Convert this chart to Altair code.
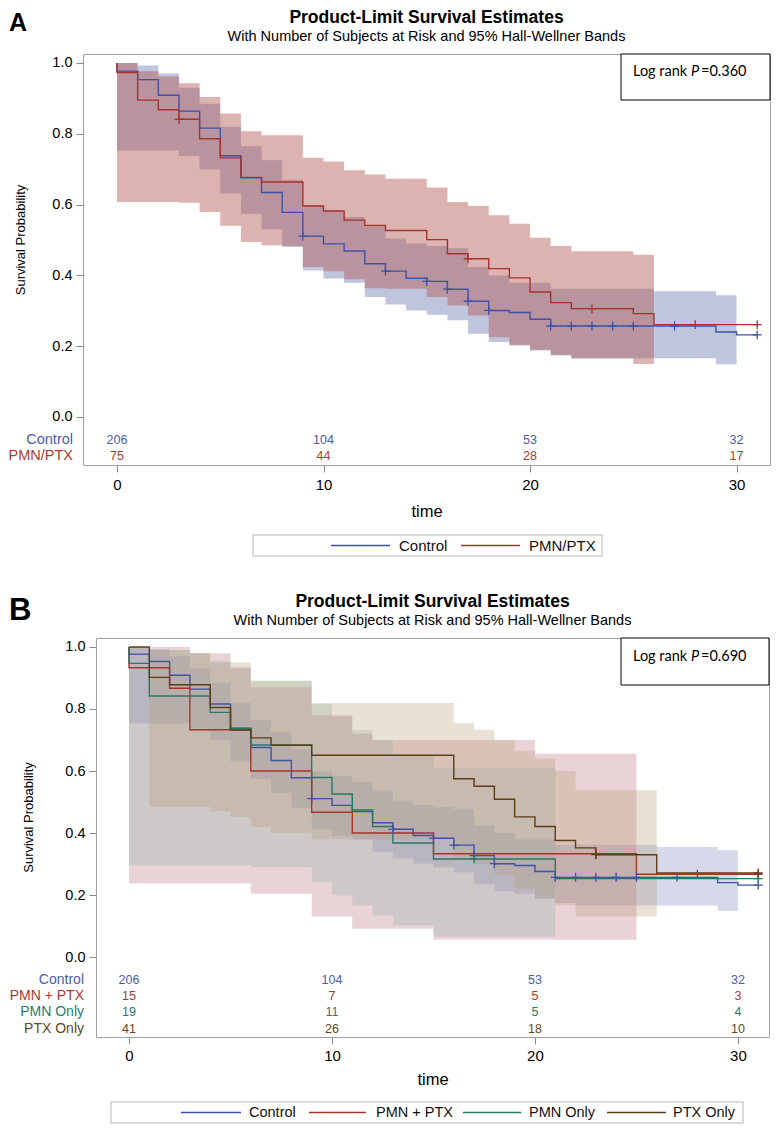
import altair as alt
import pandas as pd

FONT = "Liberation Sans, Arial, sans-serif"
BOX_FONT = "Lato, sans-serif"
PLUS = "M-1,0L1,0M0,-1L0,1"

# ---------------------------------------------------------------- data
risk_times = [0, 10, 20, 30]
end_time = 31

# Control (same cohort in both panels); values for months 0..30
control_surv = [0.977, 0.953, 0.909, 0.864, 0.816, 0.738, 0.676, 0.634, 0.578, 0.511,
                0.489, 0.469, 0.433, 0.412, 0.392, 0.383, 0.361, 0.327, 0.301, 0.295,
                0.276, 0.257, 0.257, 0.257, 0.257, 0.257, 0.257, 0.257, 0.257, 0.240, 0.232]
control_upper = [1.0, 0.993, 0.970, 0.930, 0.885, 0.820, 0.765, 0.725, 0.670, 0.598,
                 0.584, 0.565, 0.537, 0.504, 0.490, 0.483, 0.477, 0.424, 0.400, 0.379,
                 0.379, 0.362, 0.362, 0.362, 0.362, 0.362, 0.355, 0.355, 0.355, 0.344]
control_lower = [0.753, 0.753, 0.753, 0.737, 0.699, 0.631, 0.574, 0.530, 0.480, 0.414,
                 0.391, 0.379, 0.339, 0.318, 0.301, 0.289, 0.273, 0.235, 0.212, 0.204,
                 0.188, 0.174, 0.166, 0.166, 0.166, 0.166, 0.166, 0.166, 0.166, 0.149]
control_band_start = 0
control_censor = [9, 13, 15, 16, 17, 18, 21, 22, 23, 24, 25, 27, 31]
control_risk = [206, 104, 53, 32]

# Panel A: PMN/PTX
pmnptx_surv = [0.973, 0.895, 0.868, 0.841, 0.786, 0.732, 0.677, 0.664, 0.664, 0.596,
               0.582, 0.556, 0.541, 0.527, 0.527, 0.501, 0.461, 0.447, 0.419, 0.393,
               0.353, 0.323, 0.306, 0.306, 0.306, 0.292, 0.261, 0.261, 0.261, 0.261, 0.261]
pmnptx_upper = [1.0, 0.977, 0.962, 0.943, 0.904, 0.857, 0.807, 0.796, 0.796, 0.732,
                0.722, 0.697, 0.685, 0.673, 0.673, 0.648, 0.607, 0.596, 0.570, 0.546,
                0.506, 0.483, 0.468, 0.468, 0.468, 0.458]
pmnptx_lower = [0.607, 0.607, 0.607, 0.605, 0.579, 0.540, 0.494, 0.485, 0.483, 0.424,
                0.412, 0.389, 0.364, 0.362, 0.362, 0.339, 0.315, 0.287, 0.225, 0.202,
                0.190, 0.176, 0.165, 0.165, 0.165, 0.150]
pmnptx_band_start = 0
pmnptx_censor = [3, 17, 23, 28, 31]
pmnptx_risk = [75, 44, 28, 17]

# Panel B: PMN + PTX
both_surv = [0.933, 0.933, 0.867, 0.733, 0.733, 0.733, 0.600, 0.600, 0.600, 0.467,
             0.467, 0.400, 0.400, 0.400, 0.400, 0.333, 0.333, 0.333, 0.333, 0.333,
             0.333, 0.333, 0.333, 0.333, 0.333, 0.267, 0.267, 0.267, 0.267, 0.267, 0.267]
both_upper = [1.0, 1.0, 1.0, 0.98, 0.98, 0.935, 0.87, 0.87, 0.87, 0.78,
              0.78, 0.72, 0.70, 0.70, 0.70, 0.70, 0.70, 0.70, 0.70, 0.70,
              0.656, 0.656, 0.656, 0.656, 0.656]
both_lower = [0.237, 0.237, 0.237, 0.237, 0.237, 0.237, 0.204, 0.204, 0.204, 0.131,
              0.131, 0.091, 0.091, 0.091, 0.091, 0.056, 0.056, 0.056, 0.056, 0.056,
              0.056, 0.056, 0.056, 0.056, 0.056]
both_band_start = 0
both_censor = [23, 28, 31]
both_risk = [15, 7, 5, 3]

# Panel B: PMN Only
pmn_surv = [0.947, 0.842, 0.842, 0.842, 0.789, 0.737, 0.684, 0.684, 0.684, 0.579,
            0.526, 0.474, 0.421, 0.368, 0.368, 0.316, 0.316, 0.316, 0.316, 0.316,
            0.316, 0.253, 0.253, 0.253, 0.253, 0.253, 0.253, 0.253, 0.253, 0.253, 0.253]
pmn_upper = [1.0, 0.99, 0.99, 0.98, 0.955, 0.93, 0.892, 0.892, 0.892, 0.817,
             0.774, 0.733, 0.70, 0.65, 0.65, 0.61, 0.61, 0.61, 0.61, 0.61, 0.61]
pmn_lower = [0.296, 0.296, 0.296, 0.296, 0.296, 0.296, 0.290, 0.290, 0.290, 0.242,
             0.199, 0.167, 0.134, 0.102, 0.102, 0.065, 0.065, 0.065, 0.065, 0.065, 0.065]
pmn_band_start = 0
pmn_censor = [17, 31]
pmn_risk = [19, 11, 5, 4]

# Panel B: PTX Only
ptx_surv = [1.0, 0.902, 0.878, 0.878, 0.805, 0.732, 0.707, 0.683, 0.683, 0.651,
            0.651, 0.651, 0.651, 0.651, 0.651, 0.651, 0.575, 0.551, 0.509, 0.452,
            0.421, 0.376, 0.352, 0.330, 0.330, 0.330, 0.271, 0.271, 0.271, 0.271, 0.271]
ptx_upper = [0.99, 0.99, 0.98, 0.95, 0.95, 0.89, 0.89, 0.89, 0.819, 0.819,
             0.819, 0.819, 0.819, 0.819, 0.819, 0.755, 0.733, 0.70, 0.665, 0.64,
             0.60, 0.538, 0.538, 0.538, 0.538]
ptx_lower = [0.484, 0.484, 0.484, 0.47, 0.452, 0.419, 0.40, 0.40, 0.38, 0.38,
             0.38, 0.38, 0.38, 0.38, 0.38, 0.32, 0.30, 0.265, 0.22, 0.19,
             0.167, 0.131, 0.131, 0.131, 0.131]
ptx_band_start = 1
ptx_censor = [23, 31]
ptx_risk = [41, 26, 18, 10]

one = pd.DataFrame({"k": [0]})


def curve_rows(group, surv):
    rows = [dict(group=group, t=0, s=1.0, o=0)]
    for i, v in enumerate(surv):
        rows.append(dict(group=group, t=i, s=v, o=i + 1))
    rows.append(dict(group=group, t=end_time, s=surv[-1], o=len(surv) + 1))
    return rows


def band_rows(group, start, upper, lower):
    rows = [dict(group=group, t=start + i, hi=u, lo=l)
            for i, (u, l) in enumerate(zip(upper, lower))]
    rows.append(dict(group=group, t=start + len(upper), hi=upper[-1], lo=lower[-1]))
    return rows


def censor_rows(group, surv, times):
    return [dict(group=group, t=c, s=surv[min(c, len(surv) - 1)]) for c in times]


def deco_text(text, x, y, size, weight="normal", align="left", style="normal",
              font=FONT, color="black", baseline="alphabetic"):
    return alt.Chart(one).mark_text(
        text=text, fontSize=size, fontWeight=weight, align=align, fontStyle=style,
        font=font, color=color, baseline=baseline
    ).encode(x=alt.value(x), y=alt.value(y))


def panel(c):
    w, h = c["width"], c["height"]
    groups = c["groups"]
    xs = alt.Scale(domain=c["xdom"], nice=False, zero=False)
    ys = alt.Scale(domain=c["ydom"], nice=False, zero=False)
    xax = alt.Axis(values=risk_times, title="time", labelFontSize=15, titleFontSize=16.5,
                   titleFontWeight="normal", tickSize=7, labelPadding=c["xlab_pad"],
                   titlePadding=c["xtitle_pad"], domain=False, grid=False,
                   tickColor="#8a8a8a", labelColor="black", titleColor="black",
                   labelFont=FONT, titleFont=FONT)
    yax = alt.Axis(values=[0, 0.2, 0.4, 0.6, 0.8, 1.0], format=".1f", title=None,
                   labelFontSize=14.5, tickSize=7, labelPadding=4, domain=False, grid=False,
                   tickColor="#8a8a8a", labelColor="black", labelFont=FONT)
    X = alt.X("t:Q", scale=xs, axis=xax)

    band_df = pd.DataFrame([r for g, st, up, lo in c["bands"] for r in band_rows(g, st, up, lo)])
    curve_df = pd.DataFrame([r for g, s in c["surv"] for r in curve_rows(g, s)])
    cens_df = pd.DataFrame([r for g, s, ct in c["censor"] for r in censor_rows(g, s, ct)])
    risk_df = pd.DataFrame([dict(group=g, t=t, n=str(n), ry=c["row_y"][i])
                            for i, (g, ns) in enumerate(c["risk"])
                            for t, n in zip(risk_times, ns)])
    lab_df = pd.DataFrame([dict(group=g, ry=c["row_y"][i]) for i, g in enumerate(groups)])

    fill_scale = alt.Scale(domain=groups, range=c["fills"])
    stroke_scale = alt.Scale(domain=groups, range=c["lines"])
    color_scale = alt.Scale(domain=groups, range=c["texts"])

    layers = []
    layers.append(alt.Chart(band_df).mark_area(
        interpolate="step-after", fillOpacity=c["fill_opacity"]).encode(
        x=X, y=alt.Y("lo:Q", scale=ys, axis=yax, stack=None), y2="hi:Q",
        fill=alt.Fill("group:N", scale=fill_scale, legend=None), detail="group:N"))
    layers.append(alt.Chart(curve_df).mark_line(
        interpolate="step-after", strokeWidth=1.4).encode(
        x=X, y=alt.Y("s:Q", scale=ys, axis=yax),
        stroke=alt.Stroke("group:N", scale=stroke_scale, legend=None),
        order=alt.Order("o:Q"), detail="group:N"))
    layers.append(alt.Chart(cens_df).mark_point(
        shape=PLUS, size=80, strokeWidth=1.3, filled=False, opacity=1).encode(
        x=X, y=alt.Y("s:Q", scale=ys, axis=yax),
        stroke=alt.Stroke("group:N", scale=stroke_scale, legend=None)))
    layers.append(alt.Chart(risk_df).mark_text(
        font=FONT, fontSize=12.5, baseline="middle").encode(
        x=X, y=alt.Y("ry:Q", scale=ys, axis=yax), text="n:N",
        color=alt.Color("group:N", scale=color_scale, legend=None)))

    # titles
    layers.append(deco_text("Product-Limit Survival Estimates", w / 2, c["title_y"], 17.5,
                            weight="bold", align="center"))
    layers.append(deco_text("With Number of Subjects at Risk and 95% Hall-Wellner Bands",
                            w / 2, c["sub_y"], 14.5, align="center"))

    # log-rank box
    bx1, bh = c["box_x"], c["box_h"]
    layers.append(alt.Chart(one).mark_rect(fill="white", stroke="black", strokeWidth=1).encode(
        x=alt.value(bx1), x2=alt.value(w), y=alt.value(0), y2=alt.value(bh)))
    tx, ty = c["ptext_x"], c["ptext_y"]
    layers.append(deco_text("Log rank", tx[0], ty, 14.5, font=BOX_FONT, baseline="middle"))
    layers.append(deco_text("P", tx[1], ty, 14.5, font=BOX_FONT, style="italic", baseline="middle"))
    layers.append(deco_text(c["pval"], tx[2], ty, 14.5, font=BOX_FONT, baseline="middle"))

    # legend
    lx1, lx2, ly1, ly2 = c["leg_box"]
    layers.append(alt.Chart(one).mark_rect(fill="white", stroke="#cfcfcf", strokeWidth=1.5).encode(
        x=alt.value(lx1), x2=alt.value(lx2), y=alt.value(ly1), y2=alt.value(ly2)))
    ly = (ly1 + ly2) / 2
    for g, col, (a, b, t) in zip(groups, c["lines"], c["leg_items"]):
        layers.append(alt.Chart(one).mark_rule(color=col, strokeWidth=1.4).encode(
            x=alt.value(a), x2=alt.value(b), y=alt.value(ly)))
        layers.append(deco_text(g, t, ly, c["leg_font"], baseline="middle", color="#111"))

    main = alt.layer(*layers).properties(width=w, height=h)

    # left margin column: panel letter, at-risk row labels, y-axis title
    y0, y1 = c["ydom"]
    ypix = (y1 - c["ytitle_at"]) / (y1 - y0) * h
    left_layers = [
        alt.Chart(lab_df).mark_text(
            font=FONT, fontSize=c["label_font"], align="right", baseline="middle").encode(
            x=alt.value(c["label_x"]), y=alt.Y("ry:Q", scale=ys, axis=None), text="group:N",
            color=alt.Color("group:N", scale=color_scale, legend=None)),
        alt.Chart(one).mark_text(
            text="Survival Probability", font=FONT, fontSize=13, angle=270,
            baseline="middle", align="center", color="black").encode(
            x=alt.value(c["ytitle_x"]), y=alt.value(ypix)),
        deco_text(c["letter"], 0, c["letter_y"], c["letter_size"], weight="bold"),
    ]
    left = alt.layer(*left_layers).properties(
        width=c["left_w"], height=h, view=alt.ViewBackground(strokeOpacity=0))

    return alt.hconcat(left, main, spacing=0, bounds="flush")


A = panel(dict(
    letter="A", letter_size=25, letter_y=-23,
    width=687, height=411, xdom=[-1.646, 31.62], ydom=[-0.1356, 1.0254], left_w=74,
    groups=["Control", "PMN/PTX"],
    surv=[("Control", control_surv), ("PMN/PTX", pmnptx_surv)],
    bands=[("Control", control_band_start, control_upper, control_lower),
           ("PMN/PTX", pmnptx_band_start, pmnptx_upper, pmnptx_lower)],
    censor=[("Control", control_surv, control_censor), ("PMN/PTX", pmnptx_surv, pmnptx_censor)],
    risk=[("Control", control_risk), ("PMN/PTX", pmnptx_risk)],
    row_y=[-0.065, -0.110],
    lines=["#3F51A8", "#A5352B"],
    fills=["#737EB6", "#B1564F"],
    texts=["#4A5BAA", "#A63A30"],
    fill_opacity=0.45,
    label_x=64, label_font=14.5, ytitle_x=12, ytitle_at=0.5,
    xlab_pad=5.5, xtitle_pad=11,
    title_y=-31, sub_y=-13.5,
    box_x=538, box_h=46, ptext_x=[550, 608, 618], ptext_y=18, pval="=0.360",
    leg_box=[170, 519, 481, 502], leg_font=15,
    leg_items=[(248, 307, 316), (378, 437, 446)],
))

B = panel(dict(
    letter="B", letter_size=31, letter_y=-18,
    width=673, height=399, xdom=[-1.626, 31.53], ydom=[-0.258, 1.029], left_w=87,
    groups=["Control", "PMN + PTX", "PMN Only", "PTX Only"],
    surv=[("Control", control_surv), ("PMN + PTX", both_surv),
          ("PMN Only", pmn_surv), ("PTX Only", ptx_surv)],
    bands=[("Control", control_band_start, control_upper, control_lower),
           ("PMN + PTX", both_band_start, both_upper, both_lower),
           ("PMN Only", pmn_band_start, pmn_upper, pmn_lower),
           ("PTX Only", ptx_band_start, ptx_upper, ptx_lower)],
    censor=[("Control", control_surv, control_censor), ("PMN + PTX", both_surv, both_censor),
            ("PMN Only", pmn_surv, pmn_censor), ("PTX Only", ptx_surv, ptx_censor)],
    risk=[("Control", control_risk), ("PMN + PTX", both_risk),
          ("PMN Only", pmn_risk), ("PTX Only", ptx_risk)],
    row_y=[-0.074, -0.126, -0.177, -0.232],
    lines=["#3F51A8", "#A5352B", "#2A7864", "#5C3D14"],
    fills=["#7380B9", "#B96C76", "#8EB2AC", "#B69B76"],
    texts=["#4A5BAA", "#A63A30", "#2C7A6A", "#654520"],
    fill_opacity=0.3,
    label_x=75, label_font=14, ytitle_x=20, ytitle_at=0.45,
    xlab_pad=4.5, xtitle_pad=8,
    title_y=-31, sub_y=-13.5,
    box_x=525, box_h=47, ptext_x=[537, 595, 605], ptext_y=19, pval="=0.690",
    leg_box=[15, 647, 464, 485], leg_font=14.5,
    leg_items=[(85, 145, 153), (213, 270, 280), (367, 425, 433), (511, 570, 577)],
))

chart = alt.vconcat(A, B, spacing=34).resolve_scale(
    fill="independent", stroke="independent", color="independent"
).properties(
    padding={"left": 0, "top": 0, "right": 0, "bottom": 0}
).configure_view(stroke="#a0a0a0", strokeWidth=1)

chart.save("out.html", embed_options={"renderer": "svg", "actions": False})
